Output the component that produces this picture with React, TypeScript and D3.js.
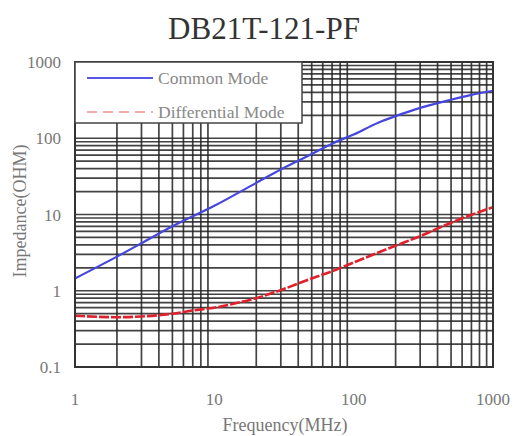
import React from "react";
import * as d3 from "d3";

const title = "DB21T-121-PF";
const freqCommon = [1, 2, 3, 5, 10, 20, 30, 50, 70, 100, 150, 200, 300, 500, 700, 1000];
const zCommon = [1.45, 2.8, 4.2, 7, 13, 26, 39, 62, 85, 112, 160, 195, 250, 320, 370, 420];
const freqDiff = [1, 2, 3, 5, 7, 10, 15, 20, 30, 50, 70, 100, 200, 300, 500, 1000];
const zDiff = [0.47, 0.45, 0.46, 0.5, 0.55, 0.6, 0.7, 0.8, 1.02, 1.45, 1.8, 2.35, 3.9, 5.2, 7.8, 12.5];
const xTicks = [1, 10, 100, 1000];
const xTickLabels = ["1", "10", "100", "1000"];
const yTicks = [0.1, 1, 10, 100, 1000];
const yTickLabels = ["0.1", "1", "10", "100", "1000"];
const seriesNames = ["Common Mode", "Differential Mode"];
const xTitle = "Frequency(MHz)";
const yTitle = "Impedance(OHM)";

export default function App() {
  const L = 75, R = 493, T = 62, B = 367;
  const x = d3.scaleLog().domain([1, 1000]).range([L, R]);
  const y = d3.scaleLog().domain([0.1, 1000]).range([B, T]);

  const xGrid: number[] = [];
  for (let d = 1; d < 1000; d *= 10) for (let k = 2; k <= 9; k++) xGrid.push(d * k);
  const yGrid: number[] = [];
  for (let d = 0.1; d < 999; d *= 10) for (let k = 1; k <= 9; k++) yGrid.push(d * k);

  const line = d3
    .line<[number, number]>()
    .x((d) => x(d[0]))
    .y((d) => y(d[1]))
    .curve(d3.curveMonotoneX);

  const common = line(freqCommon.map((f, i) => [f, zCommon[i]] as [number, number])) || "";
  const diff = line(freqDiff.map((f, i) => [f, zDiff[i]] as [number, number])) || "";

  const serif = "'Liberation Serif', 'DejaVu Serif', serif";

  return (
    <svg
      width={517}
      height={436}
      style={{ position: "absolute", left: 0, top: 0, background: "#fff" }}
      fontFamily={serif}
    >
      <text x={264} y={39} textAnchor="middle" fontSize={31} fill="#333">
        {title}
      </text>

      <g stroke="#222" strokeWidth={1.7} strokeOpacity={0.85}>
        {xGrid.map((v, i) => (
          <line key={"xg" + i} x1={x(v)} x2={x(v)} y1={T} y2={B} />
        ))}
        {yGrid.map((v, i) => (
          <line key={"yg" + i} x1={L} x2={R} y1={y(v)} y2={y(v)} />
        ))}
      </g>

      <path d={common} fill="none" stroke="#4545e0" strokeWidth={2.2} />
      <path d={diff} fill="none" stroke="#e0202a" strokeWidth={2.6} strokeDasharray="10,2" />

      <rect x={L} y={T} width={R - L} height={B - T} fill="none" stroke="#333" strokeWidth={2} />

      <g>
        <rect x={L} y={T} width={227} height={61} fill="#fff" stroke="#444" strokeWidth={1.5} />
        <line x1={87} x2={153} y1={78} y2={78} stroke="#5555e8" strokeWidth={2.2} />
        <text x={158} y={84} fontSize={17.5} fill="#888">
          {seriesNames[0]}
        </text>
        <line x1={87} x2={153} y1={112} y2={112} stroke="#ee9090" strokeWidth={1.5} strokeDasharray="10,6" />
        <text x={158} y={118} fontSize={17.5} fill="#888">
          {seriesNames[1]}
        </text>
      </g>

      <g fontSize={17} fill="#777">
        {yTicks.map((v, i) => (
          <text key={"yt" + i} x={61} y={y(v) + 6} textAnchor="end">
            {yTickLabels[i]}
          </text>
        ))}
        {xTicks.map((v, i) => (
          <text key={"xt" + i} x={x(v)} y={405} textAnchor="middle">
            {xTickLabels[i]}
          </text>
        ))}
      </g>

      <text x={285} y={431} textAnchor="middle" fontSize={18} fill="#777">
        {xTitle}
      </text>
      <text
        transform={`translate(26,211) rotate(-90)`}
        textAnchor="middle"
        fontSize={18}
        fill="#777"
      >
        {yTitle}
      </text>
    </svg>
  );
}
